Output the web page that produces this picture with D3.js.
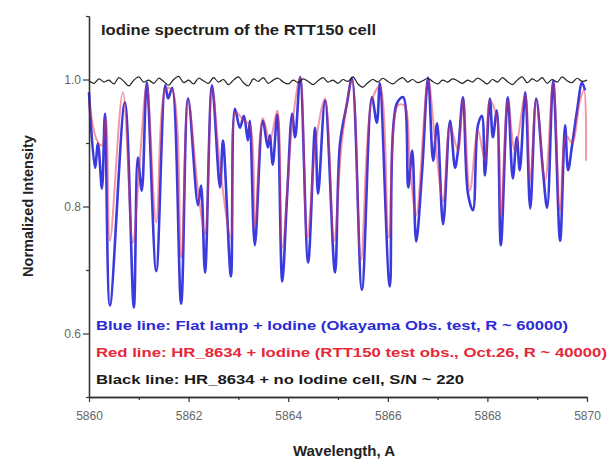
<!DOCTYPE html>
<html>
<head>
<meta charset="utf-8">
<script src="https://cdn.jsdelivr.net/npm/d3@7"></script>
<style>
  body { margin: 0; background: #fff; }
  text { font-family: "Liberation Sans", Arial, sans-serif; }
</style>
</head>
<body>
<div id="chart"></div>
<script>
// Data: [wavelength (A), normalized intensity]
const blueLine = [
  [5860.00, 0.980], [5860.12, 0.861], [5860.18, 0.899], [5860.26, 0.828], [5860.32, 0.946],
  [5860.42, 0.644], [5860.72, 0.964], [5860.90, 0.641], [5860.98, 0.877], [5861.06, 0.825],
  [5861.16, 0.995], [5861.35, 0.698], [5861.53, 0.991], [5861.59, 0.970], [5861.67, 0.987],
  [5861.85, 0.647], [5861.99, 0.970], [5862.19, 0.802], [5862.25, 0.833], [5862.33, 0.696],
  [5862.47, 0.991], [5862.63, 0.830], [5862.69, 0.904], [5862.85, 0.690], [5862.93, 0.954],
  [5863.03, 0.924], [5863.11, 0.943], [5863.19, 0.904], [5863.23, 0.935], [5863.33, 0.739],
  [5863.49, 0.935], [5863.59, 0.893], [5863.63, 0.912], [5863.69, 0.866], [5863.78, 0.945],
  [5863.88, 0.682], [5863.98, 0.820], [5864.08, 0.946], [5864.14, 0.909], [5864.24, 1.004],
  [5864.40, 0.712], [5864.54, 0.924], [5864.60, 0.820], [5864.74, 0.967], [5864.94, 0.696],
  [5865.04, 0.899], [5865.18, 0.962], [5865.28, 1.002], [5865.48, 0.669], [5865.68, 0.972],
  [5865.78, 0.932], [5865.84, 0.994], [5866.04, 0.674], [5866.18, 0.962], [5866.31, 0.972],
  [5866.41, 0.830], [5866.49, 0.888], [5866.57, 0.745], [5866.69, 0.857], [5866.81, 1.003],
  [5866.91, 0.872], [5866.99, 0.931], [5867.11, 0.772], [5867.25, 0.935], [5867.35, 0.861],
  [5867.41, 0.888], [5867.51, 0.972], [5867.61, 0.820], [5867.71, 0.794], [5867.81, 0.928],
  [5867.89, 0.943], [5867.95, 0.849], [5868.05, 0.970], [5868.11, 0.909], [5868.19, 0.951],
  [5868.27, 0.739], [5868.41, 0.972], [5868.51, 0.844], [5868.59, 0.909], [5868.65, 0.857],
  [5868.76, 0.980], [5868.86, 0.797], [5868.98, 0.970], [5869.12, 0.852], [5869.20, 0.798],
  [5869.32, 0.998], [5869.46, 0.746], [5869.56, 0.928], [5869.62, 0.857], [5869.70, 0.896],
  [5869.80, 0.951], [5869.90, 0.995], [5869.96, 0.983]
]

const redLine = [
  [5860.00, 0.967], [5860.16, 0.904], [5860.26, 0.896], [5860.34, 0.939], [5860.42, 0.746],
  [5860.68, 0.980], [5860.88, 0.743], [5861.02, 0.872], [5861.16, 0.991], [5861.35, 0.775],
  [5861.55, 0.986], [5861.67, 0.983], [5861.85, 0.720], [5861.99, 0.967], [5862.19, 0.825],
  [5862.33, 0.757], [5862.47, 0.986], [5862.65, 0.849], [5862.85, 0.751], [5862.95, 0.948],
  [5863.11, 0.935], [5863.23, 0.928], [5863.33, 0.767], [5863.49, 0.939], [5863.63, 0.904],
  [5863.78, 0.951], [5863.88, 0.735], [5864.08, 0.928], [5864.24, 1.003], [5864.38, 0.751],
  [5864.56, 0.904], [5864.74, 0.970], [5864.92, 0.746], [5865.08, 0.904], [5865.28, 0.998],
  [5865.46, 0.715], [5865.68, 0.967], [5865.84, 0.989], [5866.02, 0.751], [5866.20, 0.959],
  [5866.33, 0.959], [5866.45, 0.857], [5866.57, 0.786], [5866.81, 0.998], [5866.95, 0.904],
  [5867.11, 0.809], [5867.25, 0.928], [5867.41, 0.888], [5867.51, 0.967], [5867.65, 0.825],
  [5867.81, 0.920], [5867.95, 0.872], [5868.05, 0.967], [5868.19, 0.940], [5868.27, 0.786],
  [5868.41, 0.967], [5868.55, 0.888], [5868.76, 0.975], [5868.86, 0.841], [5868.98, 0.967],
  [5869.16, 0.841], [5869.32, 0.995], [5869.46, 0.794], [5869.58, 0.912], [5869.70, 0.900],
  [5869.86, 0.967], [5869.94, 0.983], [5869.98, 0.872]
]

const blackLine = [
  [5860.0, 0.998], [5860.1, 0.994], [5860.2, 1.001], [5860.3, 0.996], [5860.4, 0.999],
  [5860.5, 0.993], [5860.6, 1.003], [5860.7, 0.997], [5860.8, 0.990], [5860.9, 0.999],
  [5861.0, 1.004], [5861.1, 0.996], [5861.2, 0.999], [5861.3, 0.994], [5861.4, 1.002],
  [5861.5, 0.997], [5861.6, 0.991], [5861.7, 1.000], [5861.8, 1.005], [5861.9, 0.995],
  [5862.0, 0.999], [5862.1, 0.993], [5862.2, 1.002], [5862.3, 0.998], [5862.4, 0.994],
  [5862.5, 1.003], [5862.6, 0.996], [5862.7, 1.000], [5862.8, 0.992], [5862.9, 0.999],
  [5863.0, 1.004], [5863.1, 0.995], [5863.2, 0.990], [5863.3, 1.001], [5863.4, 0.997],
  [5863.5, 1.003], [5863.6, 0.994], [5863.7, 0.999], [5863.8, 1.002], [5863.9, 0.996],
  [5864.0, 0.993], [5864.1, 0.999], [5864.2, 0.995], [5864.3, 1.001], [5864.4, 0.997],
  [5864.5, 0.992], [5864.6, 0.998], [5864.7, 1.003], [5864.8, 0.996], [5864.9, 0.999],
  [5865.0, 0.994], [5865.1, 1.000], [5865.2, 0.997], [5865.3, 1.004], [5865.4, 0.993],
  [5865.5, 0.988], [5865.6, 0.995], [5865.7, 1.000], [5865.8, 0.996], [5865.9, 1.002],
  [5866.0, 0.997], [5866.1, 0.993], [5866.2, 0.999], [5866.3, 1.003], [5866.4, 0.996],
  [5866.5, 1.000], [5866.6, 0.995], [5866.7, 0.998], [5866.8, 1.002], [5866.9, 0.997],
  [5867.0, 0.993], [5867.1, 0.999], [5867.2, 0.996], [5867.3, 1.001], [5867.4, 0.998],
  [5867.5, 0.994], [5867.6, 0.999], [5867.7, 0.996], [5867.8, 1.002], [5867.9, 0.998],
  [5868.0, 0.993], [5868.1, 1.000], [5868.2, 0.996], [5868.3, 1.003], [5868.4, 0.997],
  [5868.5, 0.992], [5868.6, 0.999], [5868.7, 1.004], [5868.8, 0.995], [5868.9, 1.001],
  [5869.0, 0.997], [5869.1, 1.003], [5869.2, 0.994], [5869.3, 1.000], [5869.4, 0.996],
  [5869.5, 1.004], [5869.6, 0.998], [5869.7, 0.995], [5869.8, 1.002], [5869.9, 0.997],
  [5870.0, 0.999]
]

const xTicks = [5860, 5862, 5864, 5866, 5868, 5870]
const xMinorTicks = [5861, 5863, 5865, 5867, 5869]
const yTicks = [0.6, 0.8, 1.0]
const yMinorTicks = [0.5, 0.7, 0.9, 1.1]

const legendLines = [
  { text: 'Blue line: Flat lamp + Iodine (Okayama Obs. test, R ~ 60000)', color: '#2b2bd6', len: 472 },
  { text: 'Red line: HR_8634 + Iodine (RTT150 test obs., Oct.26, R ~ 40000)', color: '#e5283a', len: 511 },
  { text: 'Black line: HR_8634 + no Iodine cell, S/N ~ 220', color: '#1a1a1a', len: 368 }
]

const width = 612,
  height = 460

const xScale = d3.scaleLinear()
  .domain([5860, 5870])
  .range([89, 587])

const yScale = d3.scaleLinear()
  .domain([0.5, 1.1])
  .range([397, 16])

let svg = d3.select('#chart')
  .append('svg')
  .attr('width', width)
  .attr('height', height)

// spectra
const line = d3.line()
  .x(d => xScale(d[0]))
  .y(d => yScale(d[1]))
  .curve(d3.curveCatmullRom.alpha(0.5))

svg.append('path')
  .datum(blueLine)
  .attr('d', line)
  .attr('fill', 'none')
  .attr('stroke', '#3a3ade')
  .attr('stroke-width', 2.6)
  .attr('stroke-linejoin', 'round')

svg.append('path')
  .datum(redLine)
  .attr('d', line)
  .attr('fill', 'none')
  .attr('stroke', '#e8304a')
  .attr('stroke-opacity', 0.5)
  .attr('stroke-width', 2)
  .attr('stroke-linejoin', 'round')

svg.append('path')
  .datum(blackLine)
  .attr('d', line)
  .attr('fill', 'none')
  .attr('stroke', '#222')
  .attr('stroke-width', 1.2)

// axes
const xAxis = d3.axisBottom(xScale)
  .tickValues(xTicks)
  .tickFormat(d3.format('d'))
  .tickSize(5)
  .tickSizeOuter(0)

const xAxisMinor = d3.axisBottom(xScale)
  .tickValues(xMinorTicks)
  .tickFormat('')
  .tickSize(3)
  .tickSizeOuter(0)

const yAxis = d3.axisLeft(yScale)
  .tickValues(yTicks)
  .tickFormat(d3.format('.1f'))
  .tickSize(6)
  .tickSizeOuter(0)

const yAxisMinor = d3.axisLeft(yScale)
  .tickValues(yMinorTicks)
  .tickFormat('')
  .tickSize(3)
  .tickSizeOuter(0)

svg.append('g')
  .attr('transform', 'translate(0, 397)')
  .call(xAxisMinor)

let gx = svg.append('g')
  .attr('transform', 'translate(0, 397)')
  .call(xAxis)

svg.append('g')
  .attr('transform', 'translate(89, 0)')
  .call(yAxisMinor)

let gy = svg.append('g')
  .attr('transform', 'translate(89, 0)')
  .call(yAxis)

svg.selectAll('.domain').attr('stroke', '#333').attr('stroke-width', 1.3)
svg.selectAll('.tick line').attr('stroke', '#333').attr('stroke-width', 1.2)

gx.selectAll('.tick text')
  .attr('y', 14)
  .style('font-size', '12px')
  .style('font-family', '"Liberation Sans", Arial, sans-serif')
  .attr('fill', '#666')

gy.selectAll('.tick text')
  .attr('x', -8)
  .style('font-size', '12px')
  .style('font-family', '"Liberation Sans", Arial, sans-serif')
  .attr('fill', '#666')

// title
svg.append('text')
  .attr('x', 101)
  .attr('y', 35)
  .attr('textLength', 275)
  .attr('lengthAdjust', 'spacingAndGlyphs')
  .style('font-size', '14px')
  .style('font-weight', 'bold')
  .attr('fill', '#222')
  .text('Iodine spectrum of the RTT150 cell')

// legend text
svg.selectAll('.legend')
  .data(legendLines)
  .enter()
  .append('text')
  .attr('class', 'legend')
  .attr('x', 96)
  .attr('y', (d, i) => 330 + i * 27)
  .attr('textLength', d => d.len)
  .attr('lengthAdjust', 'spacingAndGlyphs')
  .style('font-size', '13.5px')
  .style('font-weight', 'bold')
  .attr('fill', d => d.color)
  .text(d => d.text)

// axis labels
svg.append('text')
  .attr('x', 344)
  .attr('y', 456)
  .attr('text-anchor', 'middle')
  .style('font-size', '15px')
  .style('font-weight', 'bold')
  .attr('fill', '#222')
  .text('Wavelength, A')

svg.append('text')
  .attr('transform', 'translate(33, 206) rotate(-90)')
  .attr('text-anchor', 'middle')
  .style('font-size', '14.5px')
  .style('font-weight', 'bold')
  .attr('fill', '#222')
  .text('Normalized Intensity')
</script>
</body>
</html>
